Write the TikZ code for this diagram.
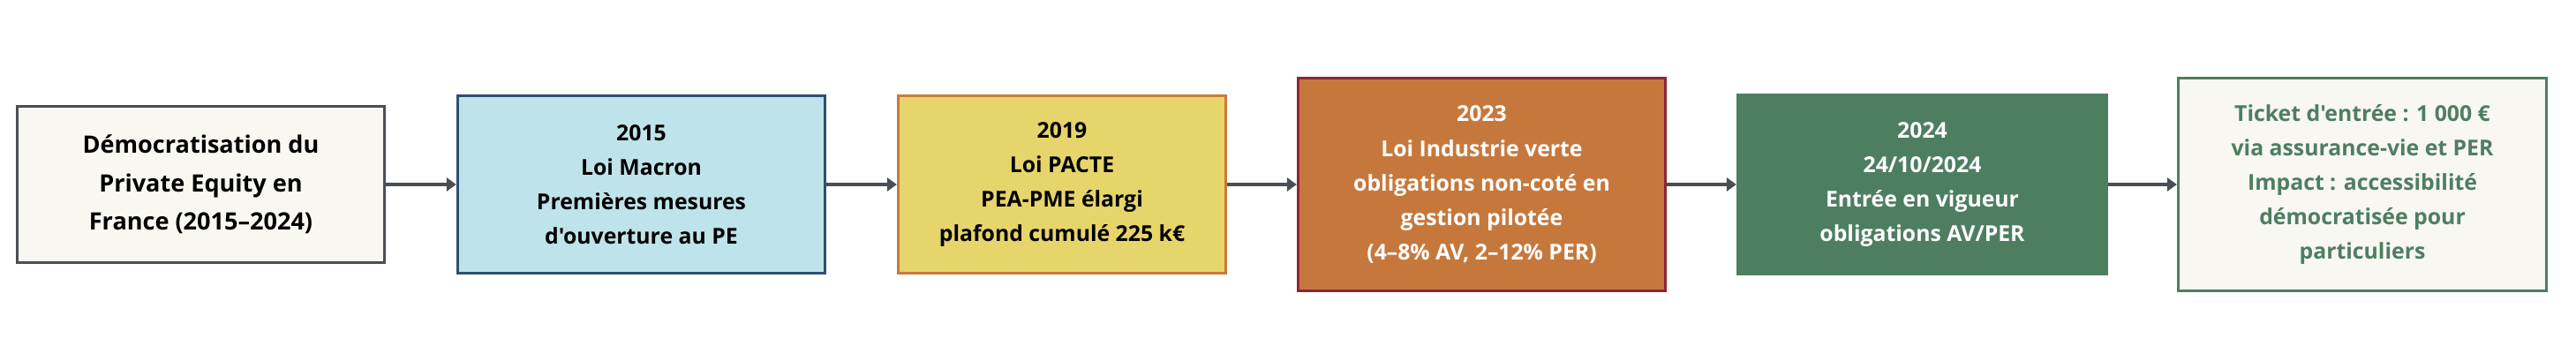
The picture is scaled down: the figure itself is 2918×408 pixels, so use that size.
\documentclass[tikz,border=0pt]{standalone}
\usepackage{fontspec}
\setmainfont{Open Sans}[Ligatures=TeXOff]
\usepackage{xcolor}
\usepackage{tikz}
\usetikzlibrary{arrows.meta}
\definecolor{fondclair}{RGB}{248,247,242}
\definecolor{gristrait}{RGB}{74,78,85}
\definecolor{macronfond}{RGB}{191,227,234}
\definecolor{macrontrait}{RGB}{46,79,112}
\definecolor{pactefond}{RGB}{230,213,106}
\definecolor{pactetrait}{RGB}{201,122,58}
\definecolor{industriefond}{RGB}{198,120,60}
\definecolor{industrietrait}{RGB}{138,38,54}
\definecolor{vigueurvert}{RGB}{78,126,96}

\tikzset{
  jalon/.style={draw, line width=0.85pt, align=center, inner sep=0pt,
    font=\fontsize{7.05}{11.1}\selectfont\bfseries},
  fleche/.style={draw=gristrait, line width=1.15pt,
    -{Triangle[length=0.11cm,width=0.15cm]}}
}

\begin{document}
\begin{tikzpicture}[x=0.01cm, y=0.01cm]
    \useasboundingbox (0,0) rectangle (2918,408);

    % Steps of the timeline
    \node[jalon, draw=gristrait, fill=fondclair,
      minimum width=4.16cm, minimum height=1.76cm,
      font=\fontsize{7.7}{12.4}\selectfont\bfseries] (intro) at (227.5,199)
      {Démocratisation du\\Private Equity en\\France (2015–2024)};

    \node[jalon, draw=macrontrait, fill=macronfond,
      minimum width=4.16cm, minimum height=2.00cm] (macron) at (726.5,199)
      {2015\\Loi Macron\\Premières mesures\\d'ouverture au PE};

    \node[jalon, draw=pactetrait, fill=pactefond,
      minimum width=3.71cm, minimum height=2.00cm] (pacte) at (1203,199)
      {2019\\Loi PACTE\\PEA-PME élargi\\plafond cumulé 225 k€};

    \node[jalon, draw=industrietrait, fill=industriefond, text=white,
      minimum width=4.16cm, minimum height=2.40cm] (industrie) at (1678.5,199)
      {2023\\Loi Industrie verte\\obligations non-coté en\\gestion pilotée\\(4–8\% AV, 2–12\% PER)};

    \node[jalon, draw=vigueurvert, fill=vigueurvert, text=white,
      minimum width=4.18cm, minimum height=2.02cm] (vigueur) at (2177.5,199)
      {2024\\24/10/2024\\Entrée en vigueur\\obligations AV/PER};

    \node[jalon, draw=vigueurvert, fill=fondclair, text=vigueurvert,
      minimum width=4.17cm, minimum height=2.40cm] (impact) at (2676,199)
      {Ticket d'entrée : 1~000~€\\via assurance-vie et PER\\Impact : accessibilité\\démocratisée pour\\particuliers};

    % Arrows
    \draw[fleche] (intro) -- (macron);
    \draw[fleche] (macron) -- (pacte);
    \draw[fleche] (pacte) -- (industrie);
    \draw[fleche] (industrie) -- (vigueur);
    \draw[fleche] (vigueur) -- (impact);

\end{tikzpicture}
\end{document}
